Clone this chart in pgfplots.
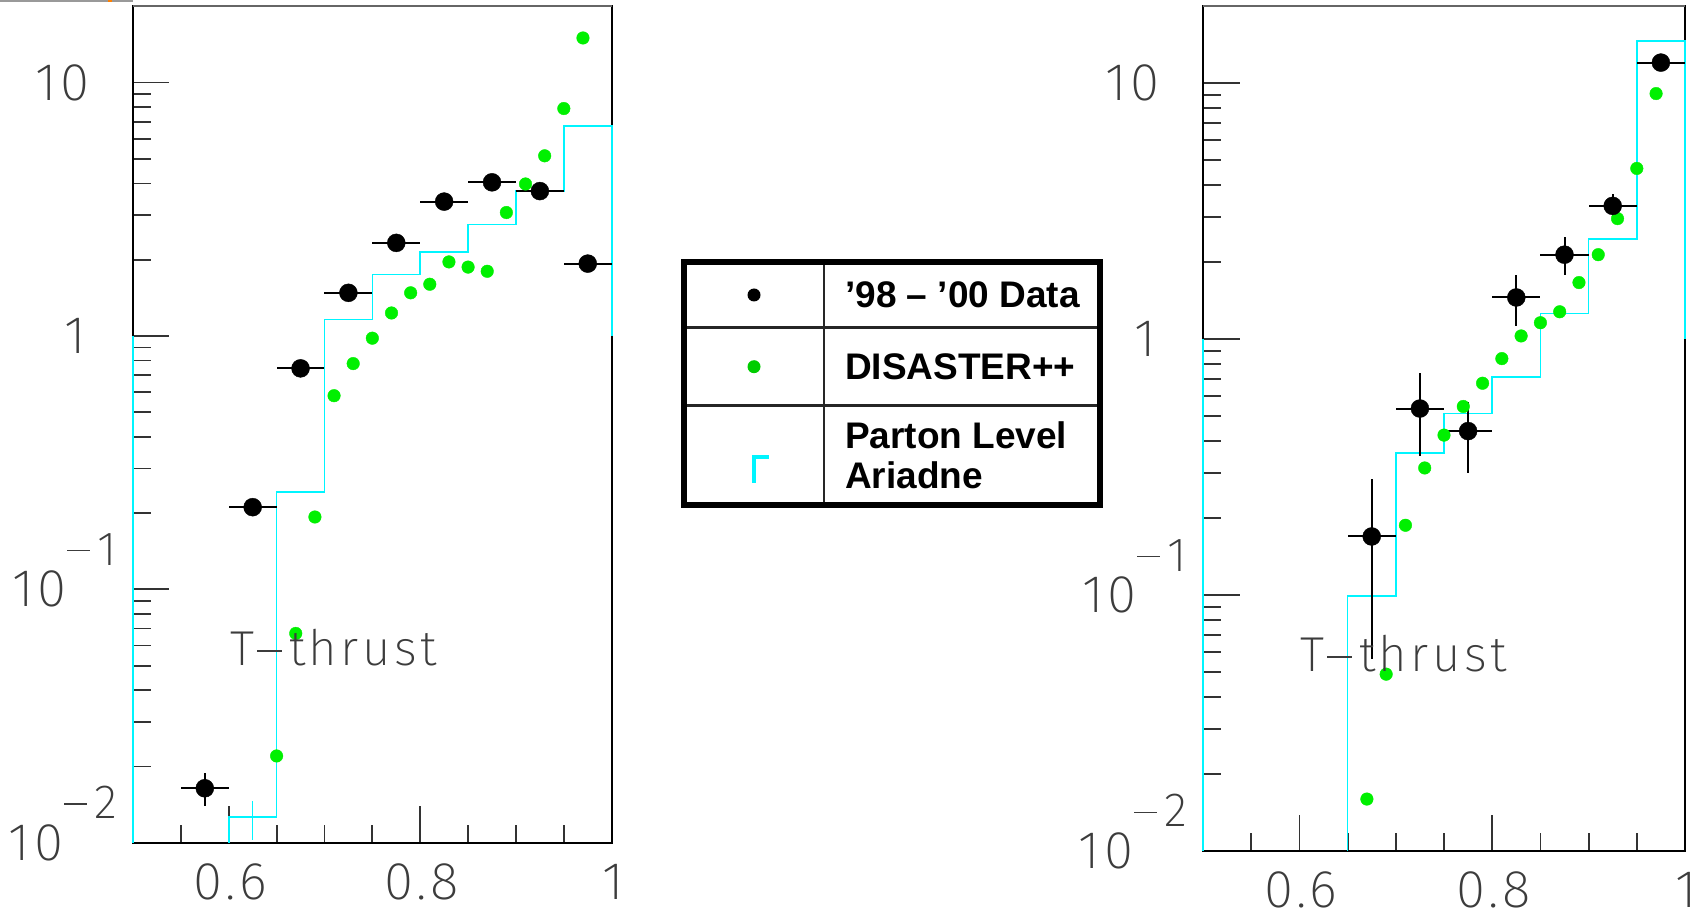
\documentclass[border=0pt]{standalone}
\usepackage{fontspec}
\usepackage{pgfplots}
\pgfplotsset{compat=1.18}
\setmainfont{Liberation Sans}
\IfFontExistsTF{Fira Sans ExtraLight}
  {\newfontfamily\thinfont[LetterSpace=7]{Fira Sans ExtraLight}}
  {\IfFontExistsTF{Fira Sans Light}
    {\newfontfamily\thinfont[LetterSpace=7]{Fira Sans Light}}
    {\newfontfamily\thinfont[LetterSpace=7]{Fira Sans}}}

\definecolor{dgreen}{RGB}{0,240,0}
\definecolor{lgreen}{RGB}{0,205,0}
\definecolor{hcyan}{RGB}{0,245,255}
\definecolor{labelgray}{RGB}{60,60,60}

\newcommand{\tlfont}{\thinfont\fontsize{53}{53}\selectfont}
% power-of-ten label with a long thin minus in the exponent
\newcommand{\tenexp}[1]{10\smash{\raisebox{41.7pt}{\fontsize{48}{48}\selectfont
  \kern1pt\rule[14pt]{23pt}{1.4pt}\kern7pt #1}}}

\begin{document}
\begin{tikzpicture}
\path[use as bounding box] (0pt,0pt) rectangle (1691pt,914pt);
\fill[black!40] (0pt,912pt) rectangle (133pt,914pt);
\fill[orange] (108pt,912pt) rectangle (112pt,914pt);

% ---------------- left panel ----------------
\begin{axis}[at={(133pt,71.3pt)}, anchor=south west,
  scale only axis, width=478.7pt, height=836.4pt, clip=false,
  xmin=0.5, xmax=1, ymode=log, ymin=0.01, ymax=20,
  axis line style={line width=2pt, black},
  tick align=inside, xtick pos=left, ytick pos=left,
  xtick={0.6,0.8,1}, xticklabels={0.6,0.8,1},
  minor xtick={0.55,0.65,0.7,0.75,0.85,0.9,0.95},
  ytick={0.01,0.1,1,10},
  yticklabels={\tenexp{2},\tenexp{1},1\kern31pt,10\kern27pt},
  minor ytick={0.02,0.03,0.04,0.05,0.06,0.07,0.08,0.09,0.2,0.3,0.4,0.5,0.6,0.7,0.8,0.9,2,3,4,5,6,7,8,9},
  major tick length=36.5pt, minor tick length=18pt,
  tick style={line width=1.8pt, black!80},
  xticklabel style={font=\tlfont, text=labelgray, anchor=north, inner sep=0pt, yshift=-21pt, xshift=1.5pt},
  yticklabel style={font=\tlfont, text=labelgray, anchor=east, inner sep=0pt, xshift=-16pt}]
\addplot[hcyan, line width=1.7pt] coordinates {(0.5,0.01) (0.5,1)};
\addplot[hcyan, line width=1.7pt] coordinates {(0.6,0.01) (0.6,0.0126) (0.65,0.0126) (0.65,0.2416)
  (0.7,0.2416) (0.7,1.16) (0.75,1.16) (0.75,1.75) (0.8,1.75) (0.8,2.14)
  (0.85,2.14) (0.85,2.75) (0.9,2.75) (0.9,3.73) (0.95,3.73) (0.95,6.75)
  (1,6.75) (1,1)};
\addplot[hcyan, line width=1.3pt] coordinates {(0.625,0.01025) (0.625,0.01466)};
\addplot[only marks, mark=*, mark size=6.3pt, color=dgreen] table {
x y
0.65 0.0220
0.67 0.0670
0.69 0.193
0.71 0.581
0.73 0.778
0.75 0.98
0.77 1.232
0.79 1.48
0.81 1.60
0.83 1.96
0.85 1.87
0.87 1.80
0.89 3.07
0.91 3.98
0.93 5.14
0.95 7.9
0.97 15.0
};
\addplot[only marks, mark=*, mark size=9pt, color=black,
  error bars/.cd, x dir=both, x fixed=0.025, y dir=both, y explicit,
  error mark=none, error bar style={line width=2pt, black}]
  table[x=x, y=y, y error plus=ep, y error minus=em] {
x y ep em
0.575 0.0164 0.0024 0.0024
0.625 0.211 0.005 0.005
0.675 0.745 0.01 0.01
0.725 1.48 0.02 0.02
0.775 2.33 0.03 0.03
0.825 3.39 0.04 0.04
0.875 4.04 0.05 0.05
0.925 3.73 0.05 0.05
0.975 1.93 0.03 0.03
};
\end{axis}

% ---------------- right panel ----------------
\begin{axis}[at={(1203pt,63pt)}, anchor=south west,
  scale only axis, width=482pt, height=844.7pt, clip=false,
  xmin=0.5, xmax=1, ymode=log, ymin=0.01, ymax=20,
  axis line style={line width=2pt, black},
  tick align=inside, xtick pos=left, ytick pos=left,
  xtick={0.6,0.8,1}, xticklabels={0.6,0.8,1},
  minor xtick={0.55,0.65,0.7,0.75,0.85,0.9,0.95},
  ytick={0.01,0.1,1,10},
  yticklabels={\tenexp{2},\tenexp{1},1\kern31pt,10\kern27pt},
  minor ytick={0.02,0.03,0.04,0.05,0.06,0.07,0.08,0.09,0.2,0.3,0.4,0.5,0.6,0.7,0.8,0.9,2,3,4,5,6,7,8,9},
  major tick length=36.5pt, minor tick length=18pt,
  tick style={line width=1.8pt, black!80},
  xticklabel style={font=\tlfont, text=labelgray, anchor=north, inner sep=0pt, yshift=-21pt, xshift=1.5pt},
  yticklabel style={font=\tlfont, text=labelgray, anchor=east, inner sep=0pt, xshift=-16pt}]
\addplot[hcyan, line width=1.7pt] coordinates {(0.5,0.01) (0.5,1)};
\addplot[hcyan, line width=1.7pt] coordinates {(0.65,0.01) (0.65,0.0994) (0.7,0.0994) (0.7,0.36)
  (0.75,0.36) (0.75,0.513) (0.8,0.513) (0.8,0.713) (0.85,0.713) (0.85,1.259)
  (0.9,1.259) (0.9,2.47) (0.95,2.47) (0.95,14.6) (1,14.6) (1,1)};
\addplot[only marks, mark=*, mark size=6.3pt, color=dgreen] table {
x y
0.67 0.01596
0.69 0.0491
0.71 0.1875
0.73 0.314
0.75 0.422
0.77 0.546
0.79 0.673
0.81 0.840
0.83 1.03
0.85 1.16
0.87 1.28
0.89 1.665
0.91 2.14
0.93 2.96
0.95 4.65
0.97 9.12
};
\addplot[only marks, mark=*, mark size=9pt, color=black,
  error bars/.cd, x dir=both, x fixed=0.025, y dir=both, y explicit,
  error mark=none, error bar style={line width=2pt, black}]
  table[x=x, y=y, y error plus=ep, y error minus=em] {
x y ep em
0.675 0.1695 0.116 0.1133
0.725 0.536 0.200 0.186
0.775 0.4375 0.1285 0.1365
0.825 1.456 0.322 0.329
0.875 2.14 0.36 0.35
0.925 3.32 0.39 0.33
0.975 12.05 0.5 0.5
};
\end{axis}

% top frame edges in grey
\draw[line width=2pt, black!60] (133pt,907.7pt) -- (611.7pt,907.7pt);
\draw[line width=2pt, black!60] (1203pt,907.7pt) -- (1685pt,907.7pt);
% panel captions
\node[font=\thinfont\fontsize{49}{49}\selectfont, text=labelgray, anchor=base west, inner sep=0pt]
  at (230pt,248.3pt) {T\kern3pt\rule[14pt]{25pt}{1.4pt}\kern7pt thrust};
\node[font=\thinfont\fontsize{49}{49}\selectfont, text=labelgray, anchor=base west, inner sep=0pt]
  at (1300pt,242.3pt) {T\kern3pt\rule[14pt]{25pt}{1.4pt}\kern7pt thrust};

% ---------------- key table ----------------
\draw[line width=2.7pt, black!85] (824pt,408.7pt) -- (824pt,651.7pt);
\draw[line width=2.7pt, black!85] (683.7pt,586.3pt) -- (1100pt,586.3pt);
\draw[line width=2.7pt, black!85] (683.7pt,508.3pt) -- (1100pt,508.3pt);
\draw[line width=6pt] (683.7pt,408.7pt) rectangle (1100pt,651.7pt);
\fill[black] (754pt,619pt) circle (6.5pt);
\fill[lgreen] (754pt,547.3pt) circle (6.5pt);
\draw[hcyan, line width=4pt] (753.8pt,431.3pt) -- (753.8pt,457pt) -- (769.3pt,457pt);
\begin{scope}[every node/.style={anchor=west, inner sep=0pt,
    font=\bfseries\fontsize{37}{37}\selectfont}]
\node at (845pt,619pt) {’98 – ’00 Data};
\node at (845pt,547.3pt) {DISASTER++};
\node at (845pt,478.5pt) {Parton Level};
\node at (845pt,438.5pt) {Ariadne};
\end{scope}
\end{tikzpicture}
\end{document}
